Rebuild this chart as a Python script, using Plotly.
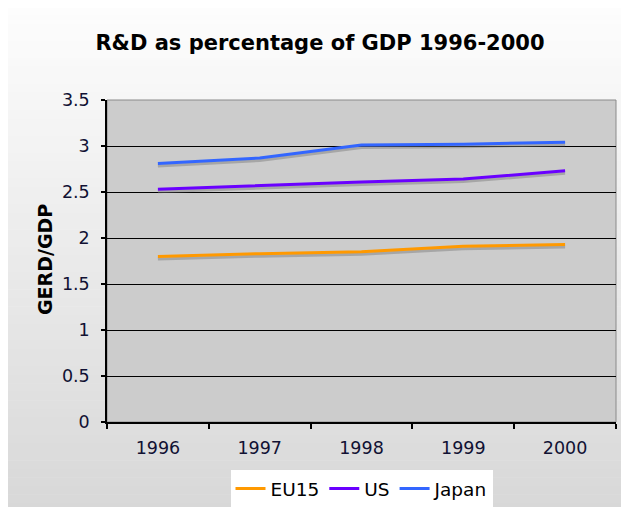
import plotly.graph_objects as go

years = ["1996", "1997", "1998", "1999", "2000"]
eu15 = [1.80, 1.83, 1.85, 1.91, 1.93]
us = [2.53, 2.57, 2.61, 2.64, 2.73]
japan = [2.81, 2.87, 3.01, 3.02, 3.04]
series_names = ["EU15", "US", "Japan"]
series_values = [eu15, us, japan]
series_colors = ["#FF9900", "#6A00FF", "#3366FF"]
y_ticks = [0, 0.5, 1, 1.5, 2, 2.5, 3, 3.5]
y_ticktext = ["0", "0.5", "1", "1.5", "2", "2.5", "3", "3.5"]

W, H = 629, 507
OFF = 8  # page body margin offset
# target screen positions of plot area: x 107..616, y 100..422
L, T = 107 - OFF, 100 - OFF
R = W - (616 - OFF)
B = H - (422 - OFF)
pw, ph = W - L - R, H - T - B

def px(x):
    return (x - OFF - L) / pw

def py(y):
    return (H - B - (y - OFF)) / ph

FONT = "DejaVu Sans"
fig = go.Figure()

shift = 2.5 * 3.5 / ph
for name, vals in zip(series_names, series_values):
    fig.add_trace(go.Scatter(x=years, y=vals, mode="lines", showlegend=False,
                             hoverinfo="skip",
                             line=dict(color="rgba(120,120,120,0.45)", width=3),
                             xaxis="x", yaxis="y"))
for name, vals, col in zip(series_names, series_values, series_colors):
    fig.add_trace(go.Scatter(x=years, y=vals, mode="lines", name=name,
                             line=dict(color=col, width=3),
                             xaxis="x", yaxis="y2"))

shapes = []
n = 60
top, bot = 7, 520
for i in range(n):
    y0 = top + (bot - top) * i / n
    y1 = top + (bot - top) * (i + 1) / n + 0.5
    t = (i + 0.5) / n
    c = int(round(253 - (253 - 215) * t))
    shapes.append(dict(type="rect", xref="paper", yref="paper", layer="below",
                       x0=px(6), x1=px(650), y0=py(y1), y1=py(y0),
                       fillcolor=f"rgb({c},{c},{c})", line=dict(width=0)))
shapes.append(dict(type="rect", xref="paper", yref="paper", layer="below",
                   x0=0, x1=1, y0=0, y1=1, fillcolor="#cccccc",
                   line=dict(color="#8a8a8a", width=1)))
shapes.append(dict(type="line", xref="paper", yref="paper", x0=px(6), x1=px(6),
                   y0=py(7), y1=py(530), line=dict(color="#111", width=2)))
shapes.append(dict(type="line", xref="paper", yref="paper", x0=px(6), x1=px(650),
                   y0=py(7), y1=py(7), line=dict(color="#111", width=2)))

fig.update_layout(
    width=W, height=H,
    margin=dict(l=L, r=R, t=T, b=B, autoexpand=False),
    paper_bgcolor="white",
    plot_bgcolor="rgba(0,0,0,0)",
    shapes=shapes,
    title=dict(text="<b>R&D as percentage of GDP 1996-2000</b>",
               font=dict(family=FONT, size=21, color="#000"),
               x=(320 - OFF) / W, xanchor="center", xref="container",
               y=1 - (43 - OFF) / H, yanchor="middle", yref="container"),
    xaxis=dict(type="category", range=[-0.5, 4.5], tickson="boundaries",
               ticks="outside", ticklen=5, tickcolor="#000", tickwidth=1.5,
               showline=True, linecolor="#000", linewidth=1.5,
               showgrid=False, ticklabelstandoff=9, automargin=False,
               tickfont=dict(family=FONT, size=17.5, color="#111133"),
               fixedrange=True),
    yaxis=dict(range=[shift, 3.5 + shift], visible=False, fixedrange=True),
    yaxis2=dict(overlaying="y", side="left", range=[0, 3.5],
                tickvals=y_ticks, ticktext=y_ticktext,
                ticks="outside", ticklen=4, tickcolor="#000", tickwidth=1.5,
                showline=True, linecolor="#000", linewidth=1.5,
                showgrid=True, gridcolor="#000", gridwidth=1,
                zeroline=False, ticklabelstandoff=8, automargin=False,
                tickfont=dict(family=FONT, size=17.5, color="#111133"),
                fixedrange=True),
    legend=dict(orientation="h", x=0.5, xanchor="center",
                yref="container", y=1 - (489 - OFF) / H, yanchor="middle",
                bgcolor="white",
                font=dict(family=FONT, size=18.5, color="#000"),
                itemwidth=30, tracegroupgap=0),
    annotations=[dict(text="<b>GERD/GDP</b>", textangle=-90, xref="paper", yref="paper",
                      x=px(45), y=py(260), xanchor="center", yanchor="middle",
                      showarrow=False, font=dict(family=FONT, size=19, color="#000"))],
    showlegend=True,
)

fig.write_html("out.html")
